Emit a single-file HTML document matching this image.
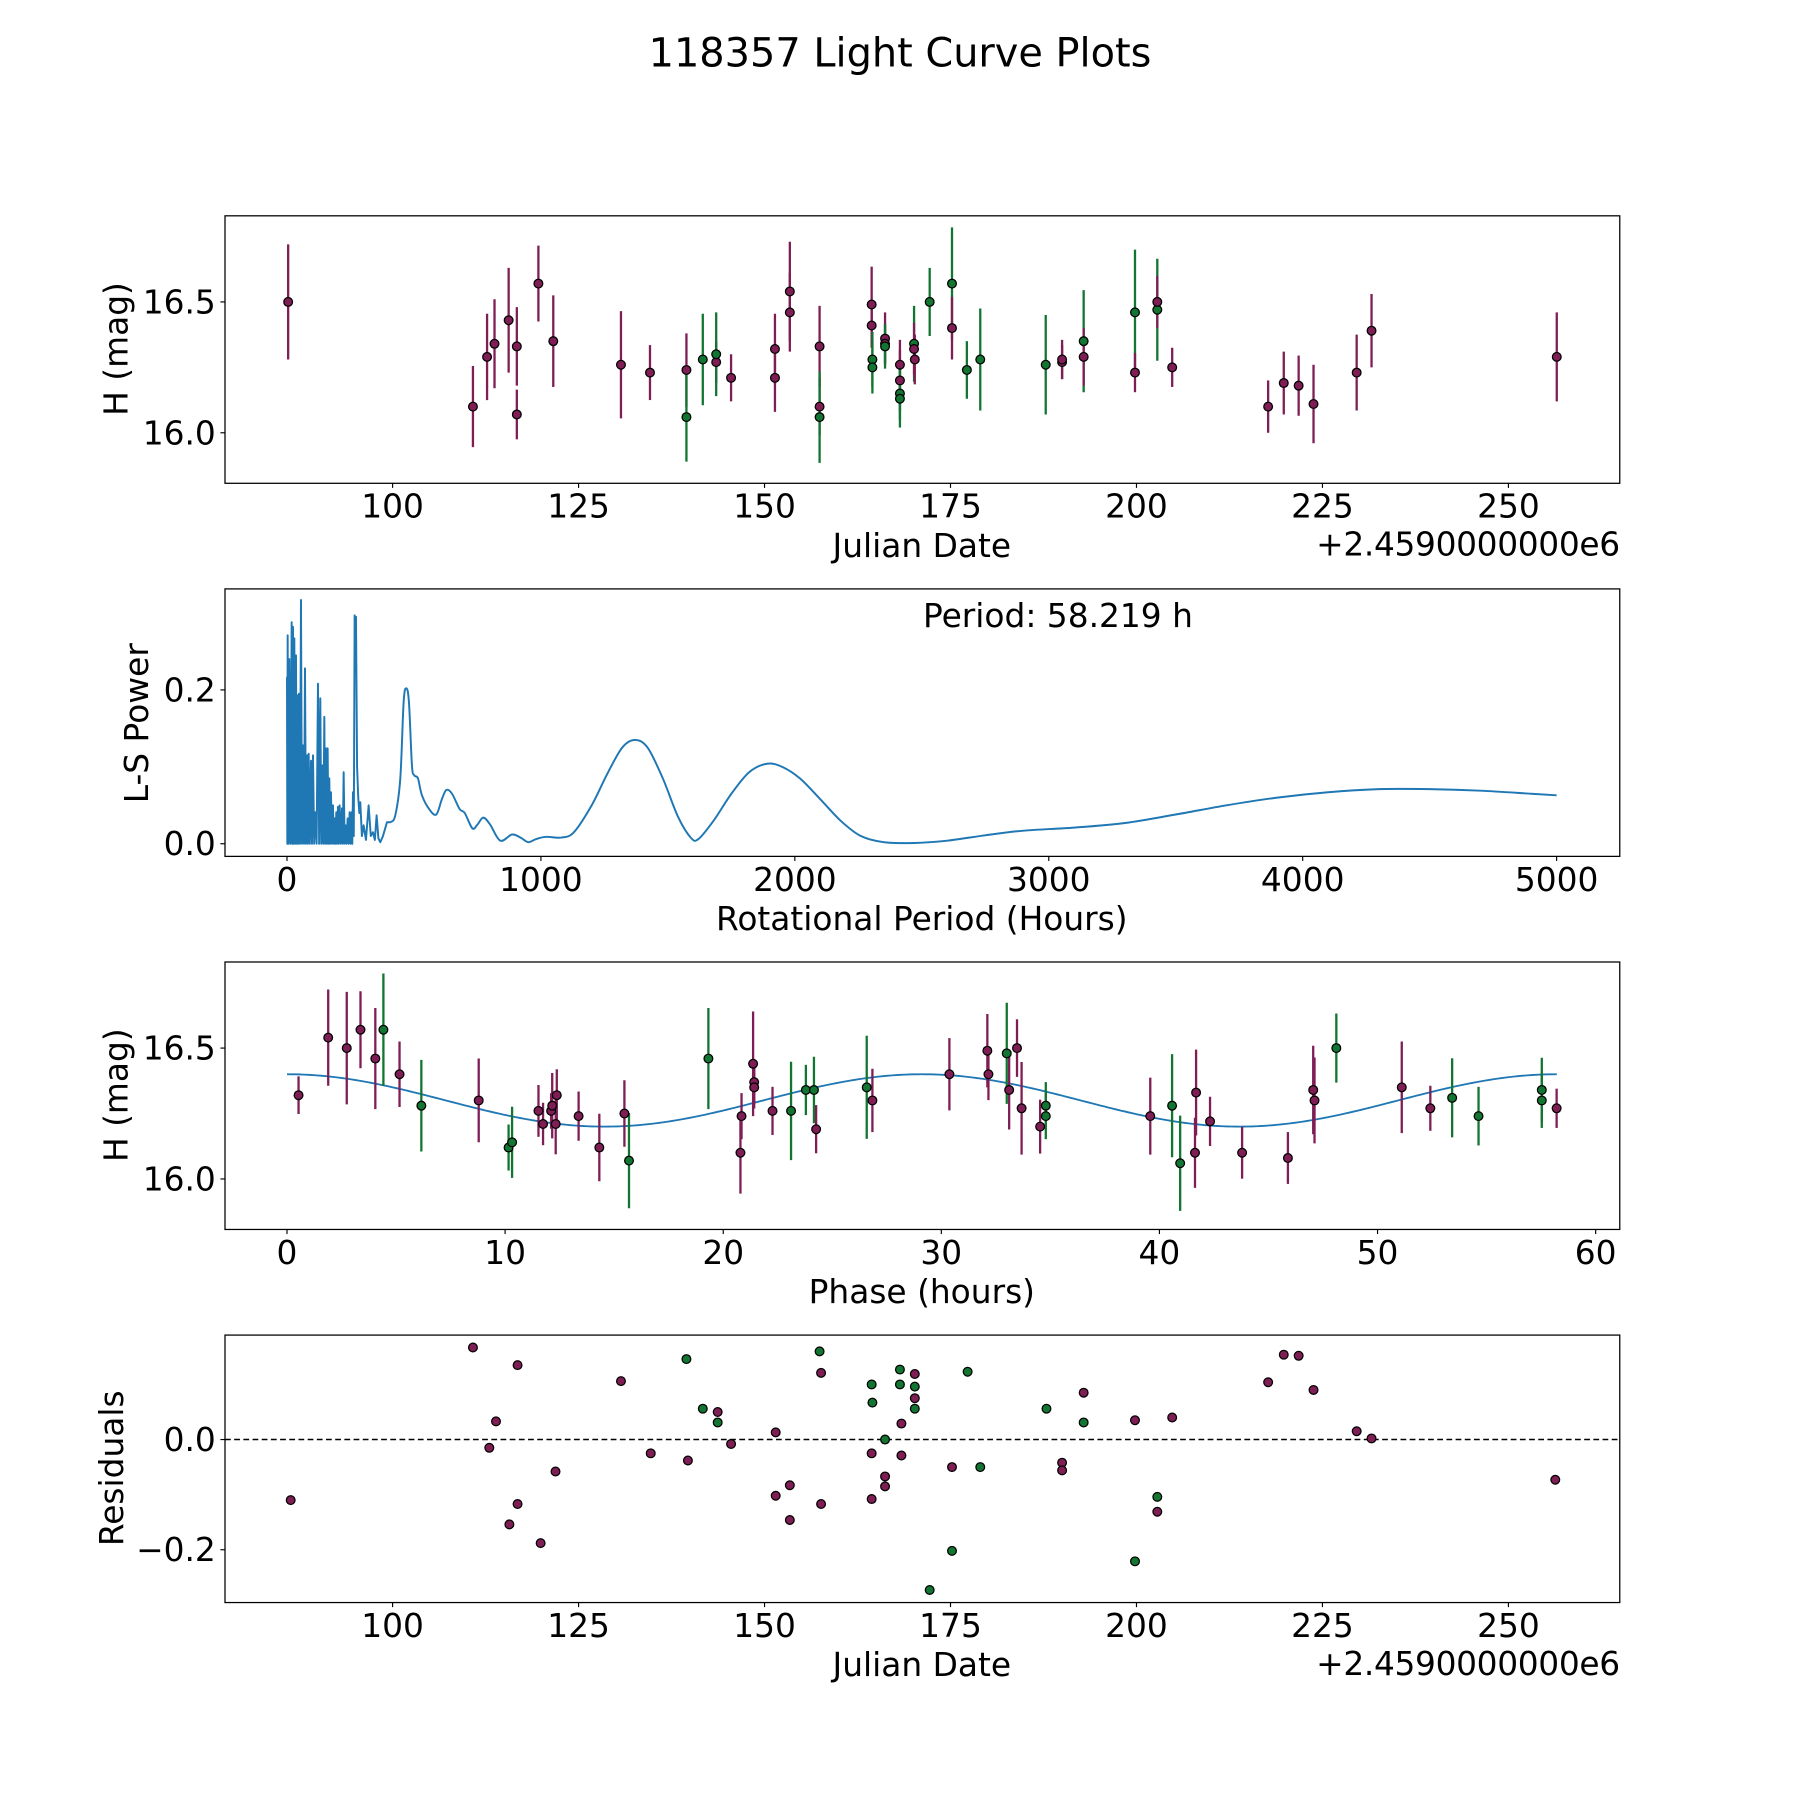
<!DOCTYPE html>
<html><head><meta charset="utf-8"><title>118357 Light Curve Plots</title>
<style>
html,body{margin:0;padding:0;background:#fff;}
svg{display:block;font-family:"DejaVu Sans","Liberation Sans",sans-serif;}
</style></head>
<body>
<svg id="fig" width="1800" height="1800" viewBox="0 0 1568 1568" xmlns="http://www.w3.org/2000/svg">
<rect x="0" y="0" width="1568" height="1568" fill="#fff"/>
<text x="784" y="58" font-size="34.7" text-anchor="middle">118357 Light Curve Plots</text>
<g id="p1"></g>
<g id="p2"></g>
<g id="p3"></g>
<g id="p4"></g>
</svg>
<script>
// ---------- Panel 1: light curve (date, H, err, filter) ----------
const lcDates = [85.96,110.8,112.7,113.7,115.6,116.7,116.7,119.6,121.6,130.7,134.6,139.5,139.5,141.7,143.5,143.5,145.5,151.4,151.4,153.4,153.4,157.4,157.4,157.4,164.4,164.4,164.5,164.5,166.2,166.2,166.2,168.2,168.2,168.2,168.2,170.1,170.1,170.2,172.2,175.2,175.2,177.2,179.0,187.8,190.0,190.0,192.9,192.9,199.8,199.8,202.8,202.8,204.8,217.7,219.8,221.8,223.8,229.6,231.6,256.5];
const lcMags = [16.50,16.10,16.29,16.34,16.43,16.33,16.07,16.57,16.35,16.26,16.23,16.24,16.06,16.28,16.27,16.30,16.21,16.32,16.21,16.54,16.46,16.33,16.10,16.06,16.49,16.41,16.28,16.25,16.36,16.34,16.33,16.26,16.20,16.15,16.13,16.34,16.32,16.28,16.50,16.57,16.40,16.24,16.28,16.26,16.27,16.28,16.35,16.29,16.46,16.23,16.47,16.50,16.25,16.10,16.19,16.18,16.11,16.23,16.39,16.29];
const lcErrs = [0.22,0.155,0.165,0.17,0.20,0.15,0.095,0.145,0.175,0.205,0.105,0.14,0.17,0.175,0.08,0.16,0.09,0.135,0.13,0.19,0.15,0.155,0.11,0.175,0.145,0.085,0.105,0.10,0.10,0.075,0.085,0.095,0.115,0.10,0.11,0.145,0.10,0.095,0.13,0.215,0.12,0.11,0.195,0.19,0.065,0.075,0.195,0.11,0.24,0.075,0.195,0.10,0.075,0.10,0.12,0.115,0.15,0.145,0.14,0.17];
const lcBands = ["m","m","m","m","m","m","m","m","m","m","m","m","g","g","m","g","m","m","m","m","m","m","m","g","m","m","g","g","m","m","g","m","m","g","g","g","m","m","g","g","m","g","g","g","m","m","g","m","g","m","g","m","m","m","m","m","m","m","m","m"];
const dateTicks = [100,125,150,175,200,225,250];
const magTicks = [16.0,16.5];

// ---------- Panel 2: Lomb-Scargle periodogram ----------
const lsPeriods = [0,1.3,2.6,5.9,9.2,13.8,18.4,21,23.6,26.2,28.9,32.1,35.4,38.7,42,44.6,47.2,51.1,55.1,59,63,67,70.9,74.8,78.7,82,85.3,89.9,94.5,98.4,102.4,107,111.5,116.7,122,126.6,131.2,135.1,139.1,143,147,150.2,153.5,156.8,160.1,163.4,166.7,169.9,173.2,177.1,181.1,184.4,187.7,191,194.2,197.5,200.8,204,207.3,211.9,216.5,219.8,223.1,227,231,234.9,238.8,242.8,246.7,250.6,254.6,257.2,259.8,263,266.4,269,271.7,276,280.8,285,288.7,295,301.8,311,321.5,330,338.6,346,353,360,367.5,378,393.7,406.8,426.5,446.2,459.3,469.8,480.3,492.1,501.3,515.7,531.5,560,588,610,628,650,680,700,730,750,773,800,840,886,920,950,980,1020,1080,1130,1200,1260,1320,1370,1420,1480,1540,1590,1620,1680,1750,1820,1890,1950,2020,2100,2180,2260,2350,2470,2600,2750,2900,3100,3300,3500,3700,3900,4100,4300,4500,4700,4900,5000];
const lsPower = [0.217,0,0.271,0,0.24,0,0.288,0,0.282,0,0.267,0,0.245,0,0.193,0,0.195,0,0.317,0,0.128,0,0.228,0,0.115,0,0.117,0,0.108,0,0.115,0,0.041,0,0.208,0,0.189,0,0.102,0,0.165,0,0.124,0,0.124,0,0.085,0,0.067,0,0.05,0,0.033,0,0.041,0,0.048,0,0.05,0,0.046,0,0.093,0,0.024,0,0.033,0,0.041,0,0.041,0,0.067,0.01,0.297,0.28,0.295,0.1,0.059,0.04,0.054,0.01,0.024,0.005,0.05,0.01,0.015,0.005,0.037,0.007,0.002,0.01,0.028,0.028,0.037,0.085,0.184,0.202,0.184,0.102,0.089,0.085,0.063,0.045,0.038,0.058,0.07,0.065,0.045,0.04,0.02,0.025,0.034,0.025,0.004,0.012,0.008,0.002,0.006,0.009,0.008,0.015,0.05,0.09,0.125,0.135,0.125,0.085,0.035,0.008,0.006,0.03,0.065,0.093,0.104,0.1,0.085,0.058,0.03,0.01,0.002,0.001,0.004,0.011,0.017,0.021,0.027,0.038,0.05,0.06,0.067,0.071,0.071,0.069,0.065,0.063];
const periodTicks = [0,1000,2000,3000,4000,5000];
const powerTicks = [0.0,0.2];
const bestPeriod = "58.219";

// ---------- Panel 3: phased light curve ----------
const phPhase = [0.53,1.89,2.74,3.37,4.05,4.42,5.16,6.16,8.79,10.16,10.32,11.53,11.74,12.11,12.16,12.32,12.37,13.37,14.32,15.47,15.68,19.32,20.79,20.84,21.37,21.42,21.42,22.26,23.11,23.79,24.16,24.26,26.58,26.84,30.37,32.11,32.16,33.0,33.11,33.47,33.68,34.53,34.79,34.79,39.58,40.58,40.95,41.63,41.68,42.32,43.79,45.89,47.05,47.11,48.11,51.11,52.42,53.42,54.63,57.53,57.53,58.21];
const phMags = [16.32,16.54,16.50,16.57,16.46,16.57,16.40,16.28,16.30,16.12,16.14,16.26,16.21,16.26,16.28,16.21,16.32,16.24,16.12,16.25,16.07,16.46,16.10,16.24,16.44,16.37,16.35,16.26,16.26,16.34,16.34,16.19,16.35,16.30,16.40,16.49,16.40,16.48,16.34,16.50,16.27,16.20,16.28,16.24,16.24,16.28,16.06,16.10,16.33,16.22,16.10,16.08,16.34,16.30,16.50,16.35,16.27,16.31,16.24,16.34,16.30,16.27];
const phErrs = [0.072,0.184,0.215,0.147,0.193,0.215,0.125,0.175,0.160,0.088,0.136,0.099,0.081,0.068,0.125,0.116,0.099,0.094,0.129,0.127,0.182,0.193,0.156,0.088,0.200,0.083,0.081,0.092,0.188,0.096,0.127,0.092,0.197,0.121,0.138,0.140,0.099,0.193,0.151,0.110,0.177,0.103,0.090,0.088,0.147,0.197,0.182,0.134,0.164,0.094,0.099,0.099,0.169,0.164,0.132,0.175,0.086,0.151,0.112,0.123,0.105,0.075];
const phBands = ["m","m","m","m","m","g","m","g","m","g","g","m","m","m","m","m","m","m","m","m","g","g","m","m","m","m","m","m","g","g","g","m","g","m","m","m","m","g","m","m","m","m","g","g","m","g","g","m","m","m","m","m","m","m","g","m","m","g","g","g","g","m"];
const fitParams = [16.30, 0.10, 58.219]; // mean, amplitude, period (two cycles per period)
const phaseTicks = [0,10,20,30,40,50,60];

// ---------- Panel 4: residuals ----------
const resDates = [86.3,110.8,113.0,113.9,115.7,116.8,116.8,119.9,121.9,130.7,134.7,139.5,139.7,141.7,143.7,143.7,145.5,151.5,151.5,153.4,153.4,157.4,157.6,157.6,164.4,164.5,164.4,164.4,166.2,166.2,166.2,168.2,168.2,168.4,168.4,170.2,170.2,170.2,170.2,172.2,175.2,175.2,177.3,179.0,187.9,190.0,190.0,192.9,192.9,199.8,199.8,202.8,202.8,204.8,217.7,219.8,221.8,223.8,229.6,231.6,256.3];
const resVals = [-0.110,0.167,-0.015,0.033,-0.154,0.135,-0.117,-0.188,-0.058,0.106,-0.025,0.146,-0.038,0.056,0.050,0.031,-0.008,0.013,-0.102,-0.083,-0.146,0.160,0.121,-0.117,0.100,0.067,-0.025,-0.108,0.0,-0.067,-0.085,0.127,0.100,0.029,-0.029,0.119,0.096,0.075,0.056,-0.273,-0.050,-0.202,0.123,-0.050,0.056,-0.042,-0.056,0.085,0.031,0.035,-0.221,-0.104,-0.131,0.040,0.104,0.154,0.152,0.090,0.015,0.002,-0.073];
const resBands = ["m","m","m","m","m","m","m","m","m","m","m","g","m","g","m","g","m","m","m","m","m","g","m","m","g","g","m","m","g","m","m","g","g","m","m","m","g","m","g","g","m","g","g","g","g","m","m","m","g","m","g","g","m","m","m","m","m","m","m","m","m"];
const resTicks = [-0.2,0.0];

const NS = "http://www.w3.org/2000/svg";
const COL = {m:"#7e1e55", g:"#127632"};
const FS = 28.6;
const L = 196, R = 1411, H = 233;
const MR = 3.8;
function el(tag, attrs, parent){ const e=document.createElementNS(NS,tag); for(const k in attrs) e.setAttribute(k,attrs[k]); parent.appendChild(e); return e; }

function frame(g, top){
  const r = el("rect",{x:L,y:top,width:R-L,height:H,fill:"none",stroke:"#000","stroke-width":1.1},g);
  
  
}
function xTicks(g, ticks, sx, top, fmt, name){
  ticks.forEach(t=>{
    const x=sx(t);
    const ln=el("line",{x1:x,x2:x,y1:top+H,y2:top+H+4,stroke:"#000","stroke-width":1},g);
    
    
    const tx=el("text",{x:x,y:top+H+30,"font-size":FS,"text-anchor":"middle"},g);
    tx.textContent=fmt(t);
    
    
  });
}
function yTicks(g, ticks, sy, fmt, name){
  ticks.forEach(t=>{
    const y=sy(t);
    const ln=el("line",{x1:L-4,x2:L,y1:y,y2:y,stroke:"#000","stroke-width":1},g);
    
    
    const tx=el("text",{x:L-8,y:y+10,"font-size":FS,"text-anchor":"end"},g);
    tx.textContent=fmt(t);
    
    
  });
}
function label(g, txt, x, y, rot, name){
  const t=el("text",{x:x,y:y,"font-size":FS,"text-anchor":"middle"},g);
  if(rot) t.setAttribute("transform","rotate(-90 "+x+" "+y+")");
  t.textContent=txt;
  
  
}
function fmtMinus(v,d){ const s=Math.abs(v).toFixed(d); return (v<0?"\u2212":"")+s; }
function errPoints(g, xs, ys, es, bands, sx, sy){
  for(let i=0;i<xs.length;i++){
    const x=sx(xs[i]);
    const b=el("line",{x1:x,x2:x,y1:sy(ys[i]+es[i]),y2:sy(ys[i]-es[i]),stroke:COL[bands[i]],"stroke-width":2},g);
    
    
  }
  for(let i=0;i<xs.length;i++){
    const c=el("circle",{cx:sx(xs[i]),cy:sy(ys[i]),r:MR,fill:COL[bands[i]],stroke:"#000","stroke-width":1.1},g);
    
    
  }
}

// Panel 1
(function(){
  const g=document.getElementById("p1"), top=188;
  const sx=d=>342+(d-100)*6.48, sy=v=>263-(v-16.5)*228;
  frame(g,top);
  errPoints(g,lcDates,lcMags,lcErrs,lcBands,sx,sy);
  xTicks(g,dateTicks,sx,top,t=>String(t),'x-tick-label');
  yTicks(g,magTicks,sy,t=>t.toFixed(1),'y-tick-label');
  label(g,"Julian Date",803,485,false,'x-axis-title');
  label(g,"H (mag)",111,304,true,'y-axis-title');
  const o=el("text",{x:R,y:484,"font-size":FS,"text-anchor":"end","letter-spacing":"-0.3"},g);
  o.textContent="+2.4590000000e6";
  
  
})();

// Panel 2
(function(){
  const g=document.getElementById("p2"), top=513;
  const sx=p=>250+p*0.2212, sy=v=>735-v*670;
  frame(g,top);
  const P=lsPeriods.map((p,i)=>[sx(p),sy(lsPower[i])]);
  let d="M"+P[0][0].toFixed(2)+","+P[0][1].toFixed(2);
  for(let i=1;i<P.length;i++){
    if(lsPeriods[i]<420){ d+=" L"+P[i][0].toFixed(2)+","+P[i][1].toFixed(2); continue; }
    const p0=P[i-2]||P[i-1], p1=P[i-1], p2=P[i], p3=P[i+1]||P[i];
    const c1x=p1[0]+(p2[0]-p0[0])/6, c1y=p1[1]+(p2[1]-p0[1])/6;
    const c2x=p2[0]-(p3[0]-p1[0])/6, c2y=p2[1]-(p3[1]-p1[1])/6;
    d+=" C"+c1x.toFixed(2)+","+c1y.toFixed(2)+" "+c2x.toFixed(2)+","+c2y.toFixed(2)+" "+p2[0].toFixed(2)+","+p2[1].toFixed(2);
  }
  const pl=el("path",{d:d,fill:"none",stroke:"#1f77b4","stroke-width":1.7,"stroke-linejoin":"round"},g);
  
  
  xTicks(g,periodTicks,sx,top,t=>String(t),'x-tick-label');
  yTicks(g,powerTicks,sy,t=>t.toFixed(1),'y-tick-label');
  label(g,"Rotational Period (Hours)",803,810,false,'x-axis-title');
  label(g,"L-S Power",129,630,true,'y-axis-title');
  const a=el("text",{x:804,y:546,"font-size":FS},g);
  a.textContent="Period: "+bestPeriod+" h";
  
  
})();

// Panel 3
(function(){
  const g=document.getElementById("p3"), top=838;
  const sx=p=>250+p*19, sy=v=>913-(v-16.5)*228;
  frame(g,top);
  const [mean,amp,per]=fitParams;
  const pts=[];
  for(let i=0;i<=300;i++){ const ph=per*i/300; pts.push(sx(ph).toFixed(2)+","+sy(mean+amp*Math.cos(4*Math.PI*ph/per)).toFixed(2)); }
  const fit=el("polyline",{points:pts.join(" "),fill:"none",stroke:"#1f77b4","stroke-width":1.6},g);
  
  
  errPoints(g,phPhase,phMags,phErrs,phBands,sx,sy);
  xTicks(g,phaseTicks,sx,top,t=>String(t),'x-tick-label');
  yTicks(g,magTicks,sy,t=>t.toFixed(1),'y-tick-label');
  label(g,"Phase (hours)",803,1135,false,'x-axis-title');
  label(g,"H (mag)",111,954,true,'y-axis-title');
})();

// Panel 4
(function(){
  const g=document.getElementById("p4"), top=1163;
  const sx=d=>342+(d-100)*6.48, sy=v=>1254-v*480;
  frame(g,top);
  const z=el("line",{x1:L,x2:R,y1:sy(0),y2:sy(0),stroke:"#000","stroke-width":1.3,"stroke-dasharray":"5,3"},g);
  
  
  for(let i=0;i<resDates.length;i++){
    const c=el("circle",{cx:sx(resDates[i]),cy:sy(resVals[i]),r:MR,fill:COL[resBands[i]],stroke:"#000","stroke-width":1.1},g);
    
    
  }
  xTicks(g,dateTicks,sx,top,t=>String(t),'x-tick-label');
  yTicks(g,resTicks,sy,t=>fmtMinus(t,1),'y-tick-label');
  label(g,"Julian Date",803,1460,false,'x-axis-title');
  label(g,"Residuals",107,1279,true,'y-axis-title');
  const o=el("text",{x:R,y:1459,"font-size":FS,"text-anchor":"end","letter-spacing":"-0.3"},g);
  o.textContent="+2.4590000000e6";
  
  
})();
</script>
</body></html>
